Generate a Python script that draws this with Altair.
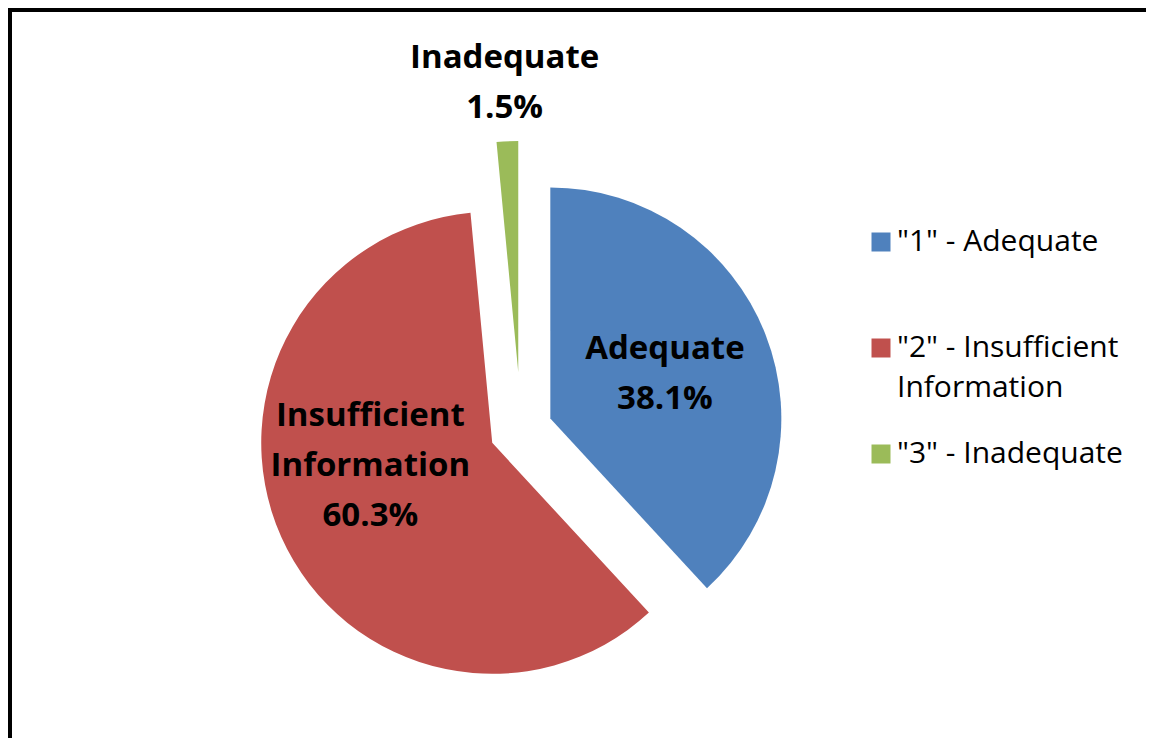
import math
import altair as alt
import pandas as pd

# ---- data ----
legend_names = ['"1" - Adequate', '"2" - Insufficient Information', '"3" - Inadequate']
slice_labels = ["Adequate\n38.1%", "Insufficient\nInformation\n60.3%", "Inadequate\n1.5%"]
percents = [38.1, 60.3, 1.5]
order = [1, 2, 3]

# ---- style ----
colors = ["#4F81BD", "#C0504D", "#9BBB59"]
explode_px = [31.5, 31.5, 58]        # explosion of each slice
label_dist = [123, 124, 289]         # label distance from slice apex
label_nudge_deg = [0, 13.4, 0]       # angular nudge (Excel "best fit")
CX, CY, R = 513, 422, 231
W, H = 1138, 730
LH = 50
FONT = "Open Sans"

total = sum(percents)
df = pd.DataFrame({
    "legend": legend_names,
    "label": slice_labels,
    "value": percents,
    "order": order,
    "explode": explode_px,
    "ldist": label_dist,
    "nudge": label_nudge_deg,
})

base = alt.Chart(df).transform_window(
    cum="sum(value)", sort=[alt.SortField("order")], frame=[None, 0]
).transform_calculate(
    c0="datum.cum - datum.value",
    c1="datum.cum",
    mid=f"(datum.cum - datum.value/2) / {total} * 2 * PI",
    nlines="length(split(datum.label, '\\n'))",
).transform_calculate(
    px=f"{CX} + datum.explode * sin(datum.mid)",
    py=f"{CY} - datum.explode * cos(datum.mid)",
    lang="datum.mid + datum.nudge * PI / 180",
).transform_calculate(
    ly=f"datum.py - (datum.nlines - 1) * {LH} / 2",
)

label_expr = (
    "datum.label == '\"2\" - Insufficient Information' ? ['\"2\" - Insufficient', 'Information'] : "
    "datum.label == '\"1\" - Adequate' ? [datum.label, ''] : datum.label"
)

color = alt.Color(
    "legend:N",
    scale=alt.Scale(domain=legend_names, range=colors),
    legend=alt.Legend(
        title=None,
        orient="none",
        legendX=858,
        legendY=219,
        symbolType="square",
        symbolSize=361,
        symbolStrokeWidth=0,
        labelFont=FONT,
        labelFontSize=30,
        labelColor="#000000",
        labelLimit=500,
        labelOffset=1,
        rowPadding=36,
        labelExpr=label_expr,
    ),
)

arcs = base.mark_arc(outerRadius=R, stroke=None).encode(
    theta=alt.Theta("c0:Q", stack=False, scale=alt.Scale(domain=[0, total], range=[0, 2 * math.pi])),
    theta2="c1:Q",
    x=alt.X("px:Q", scale=None),
    y=alt.Y("py:Q", scale=None),
    color=color,
    order=alt.Order("order:Q"),
)

labels = base.mark_text(
    font=FONT, fontWeight="bold", fontSize=33, lineBreak="\n", lineHeight=LH,
    align="center", baseline="middle", color="#000000",
).encode(
    x=alt.X("px:Q", scale=None),
    y=alt.Y("ly:Q", scale=None),
    theta=alt.Theta("lang:Q", scale=None, stack=False),
    radius=alt.Radius("ldist:Q", scale=None),
    text="label:N",
)

border_left = alt.Chart(df).mark_rule(color="black", strokeWidth=4).encode(
    x=alt.value(2), y=alt.value(0), y2=alt.value(H + 20)
)
border_top = alt.Chart(df).mark_rule(color="black", strokeWidth=4).encode(
    x=alt.value(0), x2=alt.value(W + 20), y=alt.value(2)
)

chart = alt.layer(arcs, labels, border_left, border_top).properties(
    width=W, height=H, autosize=alt.AutoSizeParams(type="none"), padding=0, background="white"
).configure_view(stroke=None).configure(
    style={"guide-label": {"lineHeight": 40}}
)

chart.save("out.html", embed_options={"renderer": "svg", "actions": False})
